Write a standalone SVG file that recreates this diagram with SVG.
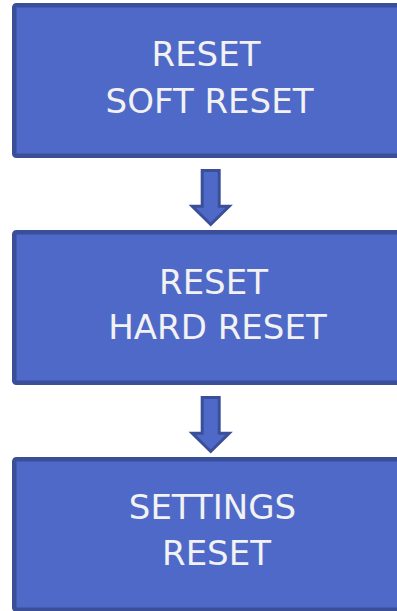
<svg xmlns="http://www.w3.org/2000/svg" width="397" height="611" viewBox="0 0 397 611">
<style>
.box{fill:#4f69c8;stroke:#3b4f99;stroke-width:4.5}
.arrow{fill:#4f69c8;stroke:#3b4f99;stroke-width:3;stroke-linejoin:miter}
.lbl{font-family:"DejaVu Sans","Noto Sans",sans-serif;font-size:34px;fill:#f2f2f2;text-anchor:middle}
</style>
<rect width="397" height="611" fill="#ffffff"/>
<g id="node1">
<rect class="box" x="14.25" y="5.25" width="420" height="150.5" rx="2"/>
<text class="lbl" x="206" y="66">RESET</text>
<text class="lbl" x="209.5" y="113">SOFT RESET</text>
</g>
<g id="node2">
<rect class="box" x="14.25" y="232.25" width="420" height="150.5" rx="2"/>
<text class="lbl" x="213.5" y="294">RESET</text>
<text class="lbl" x="217.5" y="338.5">HARD RESET</text>
</g>
<g id="node3">
<rect class="box" x="14.25" y="459.25" width="420" height="150.5" rx="2"/>
<text class="lbl" x="212.5" y="519">SETTINGS</text>
<text class="lbl" x="216.5" y="564.5">RESET</text>
</g>
<g id="connectors">
<path class="arrow" d="M202.2,170.5 H219.2 V206.3 H229.2 L210.7,224.5 L192.2,206.3 H202.2 Z"/>
<path class="arrow" d="M202.2,397.5 H219.2 V433.3 H229.2 L210.7,451.5 L192.2,433.3 H202.2 Z"/>
</g>
</svg>
